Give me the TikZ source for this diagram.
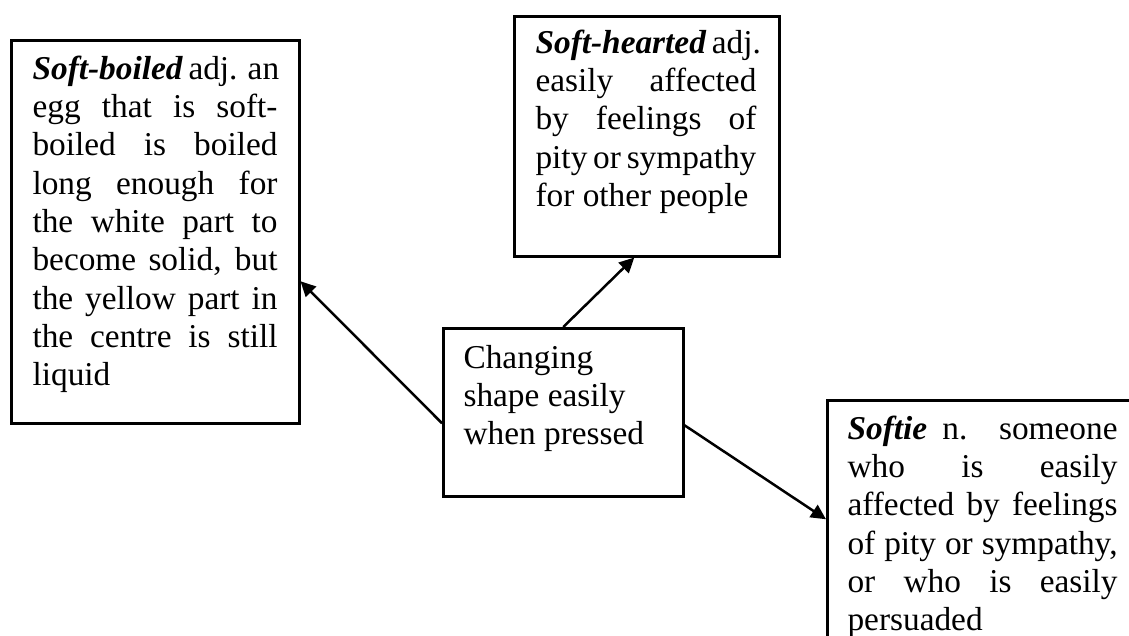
\documentclass[tikz,border=0pt]{standalone}
\usepackage{fontspec}
\setmainfont{Liberation Serif}
\usetikzlibrary{arrows.meta,calc}
% justified row, left-aligned row, and a block of rows with its first baseline as reference
\newcommand\jrow[1]{\hbox to \hsize{#1}}
\newcommand\lrow[1]{\hbox to \hsize{#1\hfil}}
\newcommand\deftext[2]{\vtop{\hsize=#1\baselineskip=13.8pt #2}}
\begin{document}
\begin{tikzpicture}[x=0.36pt,y=-0.36pt,
  box/.style={draw, line width=0.9pt, inner sep=0pt, anchor=north west},
  txt/.style={inner sep=0pt, anchor=base west, font=\fontsize{12pt}{13.8pt}\selectfont},
  link/.style={line width=0.9pt, -{Triangle[length=5.4pt,width=5.2pt]}}]
\path[use as bounding box, fill=white] (0,0) rectangle (1129,635);
\clip (0,0) rectangle (1129,635);

% frames
\node[box, minimum width=103.68pt, minimum height=137.88pt] (boiled) at (10,39) {};
\node[box, minimum width=95.4pt, minimum height=86.4pt] (hearted) at (513,15) {};
\node[box, minimum width=86.4pt, minimum height=60.48pt] (core) at (442,327) {};
\node[box, minimum width=115.2pt, minimum height=108pt] (softie) at (826,399) {};

% definitions
\node[txt] (boiledtext) at (32,79) {\deftext{88.2pt}{%
\jrow{\textbf{\textit{Soft-boiled}} adj. an}
\jrow{egg that is soft-}
\jrow{boiled is boiled}
\jrow{long enough for}
\jrow{the white part to}
\jrow{become solid, but}
\jrow{the yellow part in}
\jrow{the centre is still}
\lrow{liquid}}};

\node[txt] (heartedtext) at (535,53) {\deftext{79.5pt}{%
\jrow{\textbf{\textit{Soft-hearted}} adj.}
\jrow{easily affected}
\jrow{by feelings of}
\jrow{pity or sympathy}
\lrow{for other people}}};

\node[txt] (coretext) at (463,368) {\deftext{80pt}{%
\lrow{Changing}
\lrow{shape easily}
\lrow{when pressed}}};

\node[txt] (softietext) at (847,439) {\deftext{97.2pt}{%
\jrow{\textbf{\textit{Softie}} n. someone}
\jrow{who is easily}
\jrow{affected by feelings}
\jrow{of pity or sympathy,}
\jrow{or who is easily}
\lrow{persuaded}}};

% links from the core meaning
\draw[link] ($(core.west)+(0,11)$) -- ($(boiled.east)+(0,49.5)$);
\draw[link] (core.north) -- ($(hearted.south)+(-12.5,0)$);
\draw[link] ($(core.east)+(0,13)$) -- ($(softie.west)+(0,-31)$);
\end{tikzpicture}
\end{document}
